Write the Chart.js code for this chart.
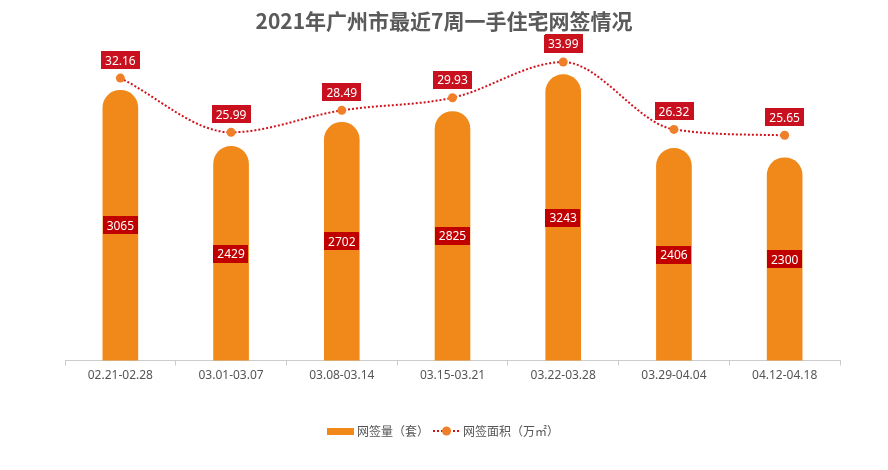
<!DOCTYPE html>
<html><head><meta charset="utf-8">
<script src="https://cdn.jsdelivr.net/npm/chart.js@4.4.0/dist/chart.umd.min.js"></script>
<style>html,body{margin:0;padding:0;background:#fff}#wrap{width:888px;height:470px}</style>
</head><body><div id="wrap"><canvas id="c" width="888" height="470"></canvas></div>
<script>
const categories = ['02.21-02.28','03.01-03.07','03.08-03.14','03.15-03.21','03.22-03.28','03.29-04.04','04.12-04.18'];
const unitsSigned = [3065, 2429, 2702, 2825, 3243, 2406, 2300];
const areaSigned = [32.16, 25.99, 28.49, 29.93, 33.99, 26.32, 25.65];
const titleText = '2021年广州市最近7周一手住宅网签情况';
const seriesNames = ['网签量（套）', '网签面积（万㎡）'];

const FONT = '"Noto Sans", "Noto Sans CJK SC", sans-serif';

function drawBox(ctx, text, cx, cy, bg) {
  ctx.font = '12px ' + FONT;
  const w = ctx.measureText(text).width + 8;
  const h = 18;
  ctx.fillStyle = bg;
  ctx.fillRect(Math.round(cx - w / 2), Math.round(cy - h / 2), Math.round(w), h);
  ctx.fillStyle = '#fff';
  ctx.textAlign = 'center';
  ctx.textBaseline = 'middle';
  ctx.fillText(text, cx, cy + 1);
}

const labelsPlugin = {
  id: 'labelsPlugin',
  afterDatasetsDraw(chart) {
    const ctx = chart.ctx;
    ctx.save();
    const barMeta = chart.getDatasetMeta(0);
    barMeta.data.forEach((bar, i) => {
      const cy = (bar.y + bar.base) / 2;
      drawBox(ctx, String(unitsSigned[i]), bar.x, cy, '#C00000');
    });
    const lineMeta = chart.getDatasetMeta(1);
    lineMeta.data.forEach((pt, i) => {
      drawBox(ctx, areaSigned[i].toFixed(2), pt.x, pt.y - 18, '#C8101E');
    });
    ctx.restore();
  },
  afterDraw(chart) {
    const ctx = chart.ctx;
    ctx.save();
    // title
    ctx.font = 'bold 21px "Noto Sans CJK SC", sans-serif';
    ctx.fillStyle = '#5a5a5a';
    ctx.textAlign = 'center';
    ctx.textBaseline = 'middle';
    ctx.fillText(titleText, 444, 21);
    ctx.fillStyle = '#C8151B';
    ctx.fillRect(545, 34, 38, 5);
    // legend
    const ly = 431;
    ctx.fillStyle = '#F0891A';
    ctx.fillRect(327, ly - 3, 27, 7);
    ctx.font = '12px "Noto Sans CJK SC", sans-serif';
    ctx.fillStyle = '#555';
    ctx.textAlign = 'left';
    ctx.fillText(seriesNames[0], 357, ly);
    ctx.strokeStyle = '#D0121B';
    ctx.lineWidth = 2;
    ctx.setLineDash([2, 2]);
    ctx.beginPath();
    ctx.moveTo(433, ly); ctx.lineTo(459, ly);
    ctx.stroke();
    ctx.setLineDash([]);
    ctx.fillStyle = '#EF8029';
    ctx.beginPath();
    ctx.arc(446.5, ly, 4.5, 0, Math.PI * 2);
    ctx.fill();
    ctx.fillStyle = '#555';
    ctx.fillText(seriesNames[1], 463, ly);
    ctx.restore();
  }
};

new Chart(document.getElementById('c'), {
  data: {
    labels: categories,
    datasets: [
      {
        type: 'bar',
        label: seriesNames[0],
        data: unitsSigned,
        yAxisID: 'yBar',
        backgroundColor: '#F0891A',
        barThickness: 35,
        borderRadius: {topLeft: 17.5, topRight: 17.5, bottomLeft: 0, bottomRight: 0},
        borderSkipped: false,
        order: 2
      },
      {
        type: 'line',
        label: seriesNames[1],
        data: areaSigned,
        yAxisID: 'yLine',
        borderColor: '#D0121B',
        borderWidth: 2,
        borderDash: [2, 2],
        cubicInterpolationMode: 'monotone',
        pointRadius: 4.5,
        pointBackgroundColor: '#EF8029',
        pointBorderWidth: 0,
        fill: false,
        order: 1
      }
    ]
  },
  options: {
    responsive: false,
    animation: false,
    layout: {padding: {top: 40, left: 65, right: 48, bottom: 84}},
    plugins: {legend: {display: false}, title: {display: false}, tooltip: {enabled: false}},
    scales: {
      x: {
        offset: true,
        grid: {display: true, drawOnChartArea: false, drawTicks: true, tickLength: 5, color: '#ccc', offset: true},
        border: {display: true, color: '#ccc'},
        ticks: {color: '#555', font: {size: 12, family: FONT}, padding: 3, maxRotation: 0, autoSkip: false}
      },
      yBar: {display: false, min: 0, max: 3636, position: 'left'},
      yLine: {display: false, min: 0, max: 36.5, position: 'right'}
    }
  },
  plugins: [labelsPlugin]
});
</script>
</body></html>
